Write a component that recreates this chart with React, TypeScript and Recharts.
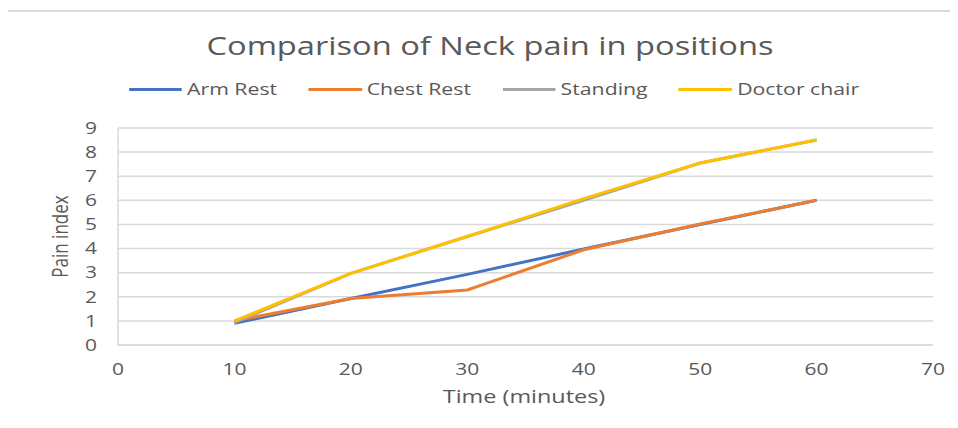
import React from 'react';
import { LineChart, Line, XAxis, YAxis, CartesianGrid, Legend } from 'recharts';

const times = [10, 20, 30, 40, 50, 60];
const armRest = [0.9, 1.93, 2.93, 3.98, 5.0, 6.0];
const chestRest = [1.0, 1.93, 2.28, 3.95, 5.02, 6.0];
const standing = [0.93, 2.97, 4.5, 6.0, 7.55, 8.5];
const doctorChair = [1.0, 2.97, 4.5, 6.07, 7.55, 8.5];
const xTicks = [0, 10, 20, 30, 40, 50, 60, 70];
const yTicks = [0, 1, 2, 3, 4, 5, 6, 7, 8, 9];

const seriesNames = ['Arm Rest', 'Chest Rest', 'Standing', 'Doctor chair'];
const seriesKeys = ['arm', 'chest', 'standing', 'doctor'];
const seriesColors = ['#4472C4', '#ED7D31', '#A5A5A5', '#FFC000'];

const data = times.map((t, i) => ({
  t,
  arm: armRest[i],
  chest: chestRest[i],
  standing: standing[i],
  doctor: doctorChair[i],
}));

const FONT = '"Open Sans", sans-serif';
const TEXT = '#595959';
const SX = 1.28;

const renderLegend = () => (
  <div
    style={{
      display: 'flex',
      justifyContent: 'center',
      gap: 24.5,
      fontFamily: FONT,
      fontSize: 16.6,
      lineHeight: '22px',
      color: TEXT,
      transform: `scaleX(${SX})`,
      transformOrigin: '50% 50%',
    }}
  >
    {seriesNames.map((n, i) => (
      <div key={n} style={{ display: 'flex', alignItems: 'center' }}>
        <span style={{ display: 'inline-block', width: 41.5, height: 3, background: seriesColors[i], marginRight: 4 }} />
        <span>{n}</span>
      </div>
    ))}
  </div>
);

const XTick = (props: any) => {
  const { x, y, payload } = props;
  return (
    <g transform={`translate(${x},${y})`}>
      <text transform={`scale(${SX},1)`} textAnchor="middle" dy="0.71em" fill={TEXT} fontSize={16.4} fontFamily={FONT}>
        {payload.value}
      </text>
    </g>
  );
};

const YTick = (props: any) => {
  const { x, y, payload } = props;
  return (
    <g transform={`translate(${x},${y})`}>
      <text transform={`scale(${SX},1)`} textAnchor="end" dy="0.355em" fill={TEXT} fontSize={16.4} fontFamily={FONT}>
        {payload.value}
      </text>
    </g>
  );
};

const XLabel = (props: any) => {
  const vb = props.viewBox || {};
  const cx = vb.x + vb.width / 2 - 1.5;
  const cy = vb.y + vb.height / 2 + 14;
  return (
    <g transform={`translate(${cx},${cy})`}>
      <text transform={`scale(${SX},1)`} textAnchor="middle" dominantBaseline="central" fill={TEXT} fontSize={18.3} fontFamily={FONT}>
        Time (minutes)
      </text>
    </g>
  );
};

const YLabel = (props: any) => {
  const vb = props.viewBox || {};
  const cx = vb.x + vb.width / 2 - 3;
  const cy = vb.y + vb.height / 2;
  return (
    <g transform={`translate(${cx},${cy}) scale(${SX},1) rotate(-90)`}>
      <text textAnchor="middle" dominantBaseline="central" fill={TEXT} fontSize={17} fontFamily={FONT}>
        Pain index
      </text>
    </g>
  );
};

export default function App() {
  return (
    <div style={{ position: 'relative', width: 950, height: 420 }}>
      <div
        style={{
          position: 'absolute',
          left: -4,
          top: 2,
          width: 952,
          height: 418,
          borderLeft: '2px solid #d9d9d9',
          borderTop: '2px solid #d9d9d9',
          boxSizing: 'border-box',
        }}
      />
      <div
        style={{
          position: 'absolute',
          left: 0,
          top: 20,
          width: 964,
          textAlign: 'center',
          fontFamily: FONT,
          fontSize: 25.5,
          lineHeight: '34px',
          color: TEXT,
          transform: `scaleX(${SX})`,
          transformOrigin: '50% 50%',
        }}
      >
        Comparison of Neck pain in positions
      </div>
      <LineChart width={950} height={420} data={data} margin={{ top: 98, right: 25, left: 0, bottom: 8 }}>
        <CartesianGrid vertical={false} stroke="#d9d9d9" strokeWidth={1.5} />
        <XAxis
          dataKey="t"
          type="number"
          domain={[0, 70]}
          ticks={xTicks}
          tickLine={false}
          axisLine={{ stroke: '#d9d9d9', strokeWidth: 1.5 }}
          tick={<XTick />}
          tickMargin={12}
          height={75}
          label={<XLabel />}
        />
        <YAxis
          type="number"
          domain={[0, 9]}
          ticks={yTicks}
          interval={0}
          tickLine={false}
          axisLine={{ stroke: '#d9d9d9', strokeWidth: 1.5 }}
          tick={<YTick />}
          tickMargin={15}
          width={110}
          label={<YLabel />}
        />
        <Legend verticalAlign="top" content={renderLegend} wrapperStyle={{ top: 70, left: 0, width: 972, height: 22 }} />
        {seriesKeys.map((k, i) => (
          <Line
            key={k}
            type="linear"
            dataKey={k}
            name={seriesNames[i]}
            stroke={seriesColors[i]}
            strokeWidth={3}
            dot={false}
            isAnimationActive={false}
          />
        ))}
      </LineChart>
    </div>
  );
}
